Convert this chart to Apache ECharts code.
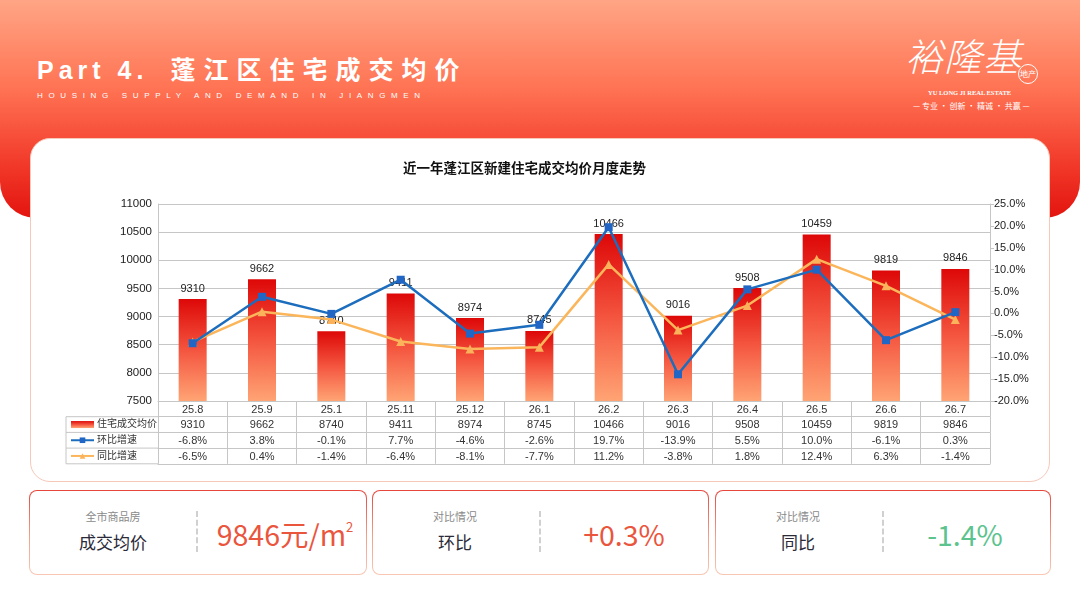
<!DOCTYPE html>
<html>
<head>
<meta charset="utf-8">
<script src="https://cdn.jsdelivr.net/npm/echarts@6/dist/echarts.min.js"></script>
<style>
  html, body { margin: 0; padding: 0; }
  body { width: 1080px; height: 608px; overflow: hidden; position: relative; background: #fff;
         font-family: 'Noto Sans CJK SC', 'Liberation Sans', sans-serif; }
  .abs { position: absolute; }
  #header { left: 0; top: 0; width: 1080px; height: 218px; border-radius: 0 0 36px 36px;
            background: linear-gradient(180deg, #ffa585 0%, #ff7454 40%, #f23a2a 75%, #e3140f 100%); }
  #title { left: 37px; top: 52px; color: #fff; font-weight: bold; font-size: 25px; white-space: nowrap; line-height: 32px; }
  #title .en { letter-spacing: 5px; font-family: 'Liberation Sans', sans-serif; }
  #title .cn { letter-spacing: 8px; margin-left: 22px; }
  #subtitle { left: 37px; top: 91px; color: #fff; font-size: 8px; letter-spacing: 5.65px; font-family: 'Liberation Sans', sans-serif; white-space: nowrap; }
  #logo { left: 905px; top: 30px; color: #fff; font-size: 38px; font-weight: 300; letter-spacing: 1px; font-style: italic; line-height: 50px; }
  #logo2 { left: 1018px; top: 64px; color: #fff; font-size: 8px; border: 1px solid #fff; border-radius: 50%; width: 18px; height: 18px; line-height: 18px; text-align: center; }
  #logoEn { left: 928px; top: 89px; color: #fff; font-size: 6.5px; font-family: 'Liberation Serif', serif; font-weight: bold; white-space: nowrap; }
  #logoCn { left: 913px; top: 100px; color: #fff; font-size: 8px; white-space: nowrap; }
  #card { left: 30px; top: 138px; width: 1020px; height: 344px; background: #fff; border-radius: 20px;
          border: 1px solid #f6c8ba; box-sizing: border-box; }
  .stat { top: 490px; height: 85px; border-radius: 8px; padding: 1px; box-sizing: border-box;
          background: linear-gradient(180deg, #e6463c 0%, #f4a08a 55%, #f8c7b3 100%); }
  .stat .inner { width: 100%; height: 100%; background: #fff; border-radius: 7px; }
  .c { transform: translate(-50%, -50%); white-space: nowrap; }
  .sub { font-size: 11px; color: #8a8a8a; }
  .main { font-size: 17px; color: #2a2a38; }
  .val { font-size: 28.5px; color: #ea553d; font-weight: 400; }
  .val sup { font-size: 13px; vertical-align: 14px; }
  .div { width: 0; border-left: 2px dashed #d0d0d0; top: 511px; height: 41px; }
  #chart { left: 0; top: 0; width: 1080px; height: 608px; }
</style>
</head>
<body>
<div id="header" class="abs"></div>
<div id="title" class="abs"><span class="en">Part 4.</span><span class="cn">蓬江区住宅成交均价</span></div>
<div id="subtitle" class="abs">HOUSING SUPPLY AND DEMAND IN JIANGMEN</div>
<div id="logo" class="abs">裕隆基</div>
<div id="logo2" class="abs">地产</div>
<div id="logoEn" class="abs">YU LONG JI REAL ESTATE</div>
<div id="logoCn" class="abs">— 专业 · 创新 · 精诚 · 共赢 —</div>
<div id="card" class="abs"></div>

<div class="stat abs" style="left:29px;width:338px"><div class="inner"></div></div>
<div class="stat abs" style="left:372px;width:337px"><div class="inner"></div></div>
<div class="stat abs" style="left:715px;width:336px"><div class="inner"></div></div>

<div class="abs c sub" style="left:113px;top:516px">全市商品房</div>
<div class="abs c main" style="left:113px;top:541px">成交均价</div>
<div class="abs div" style="left:196px"></div>
<div class="abs c val" style="left:285px;top:533px">9846元/m<sup>2</sup></div>

<div class="abs c sub" style="left:455px;top:516px">对比情况</div>
<div class="abs c main" style="left:455px;top:541px">环比</div>
<div class="abs div" style="left:539px"></div>
<div class="abs c val" style="left:624px;top:533px">+0.3%</div>

<div class="abs c sub" style="left:798px;top:516px">对比情况</div>
<div class="abs c main" style="left:798px;top:541px">同比</div>
<div class="abs div" style="left:882px"></div>
<div class="abs c val" style="left:965px;top:533px;color:#5cc38e">-1.4%</div>

<div id="chart" class="abs"></div>

<script>
// chart data
var months = ['25.8', '25.9', '25.1', '25.11', '25.12', '26.1', '26.2', '26.3', '26.4', '26.5', '26.6', '26.7'];
var avgPrice = [9310, 9662, 8740, 9411, 8974, 8745, 10466, 9016, 9508, 10459, 9819, 9846];
var momGrowth = [-6.8, 3.8, -0.1, 7.7, -4.6, -2.6, 19.7, -13.9, 5.5, 10.0, -6.1, 0.3];
var yoyGrowth = [-6.5, 0.4, -1.4, -6.4, -8.1, -7.7, 11.2, -3.8, 1.8, 12.4, 6.3, -1.4];
var seriesNames = ['住宅成交均价', '环比增速', '同比增速'];
var priceAxis = { min: 7500, max: 11000, step: 500 };
var rateAxis = { min: -20, max: 25, step: 5 };

// layout of the plot + data table
var PLOT_L = 158, PLOT_R = 990, PLOT_T = 204, PLOT_B = 401;
var ROW = 15.7, TABLE_L = 66;
var GRID_LINE = '#c6c6c6';

var pct = function (v) { return v.toFixed(1) + '%'; };

function tableAxis(data, row, showLabel) {
    return {
        type: 'category',
        data: data,
        position: 'bottom',
        offset: row * ROW,
        axisLine: { show: true, onZero: false, lineStyle: { color: GRID_LINE } },
        axisTick: { show: showLabel, interval: 0, length: ROW, lineStyle: { color: GRID_LINE } },
        axisLabel: { show: showLabel, interval: 0, margin: 3, fontSize: 11, color: '#333' },
        splitLine: { show: false }
    };
}

var chart = echarts.init(document.getElementById('chart'));

// left part of the table (legend column borders)
var tableLines = [];
for (var i = 1; i <= 4; i++) {
    var y = PLOT_B + i * ROW;
    tableLines.push({ type: 'line', shape: { x1: TABLE_L, y1: y, x2: PLOT_L, y2: y },
        style: { stroke: GRID_LINE, lineWidth: 1 } });
}
tableLines.push({ type: 'line', shape: { x1: TABLE_L, y1: PLOT_B + ROW, x2: TABLE_L, y2: PLOT_B + 4 * ROW },
    style: { stroke: GRID_LINE, lineWidth: 1 } });

var option = {
    animation: false,
    textStyle: { fontFamily: "'Liberation Sans', 'Noto Sans CJK SC', sans-serif" },
    title: {
        text: '近一年蓬江区新建住宅成交均价月度走势',
        left: 398, top: 158,
        textStyle: { fontSize: 13.5, fontWeight: 'bold', color: '#111' }
    },
    legend: {
        orient: 'vertical',
        left: TABLE_L + 4, top: PLOT_B + ROW,
        padding: 0,
        itemWidth: 23, itemHeight: 7, itemGap: 0,
        textStyle: { fontSize: 10, color: '#333', lineHeight: ROW, padding: [0, 0, 0, -2] },
        data: [{ name: seriesNames[0], icon: 'rect' }, seriesNames[1], seriesNames[2]]
    },
    grid: { left: PLOT_L, right: 1080 - PLOT_R, top: PLOT_T, bottom: 608 - PLOT_B, containLabel: false },
    xAxis: [
        tableAxis(months, 0, true),
        tableAxis(avgPrice.map(String), 1, true),
        tableAxis(momGrowth.map(pct), 2, true),
        tableAxis(yoyGrowth.map(pct), 3, true),
        tableAxis(months, 4, false)
    ],
    yAxis: [
        {
            type: 'value',
            min: priceAxis.min, max: priceAxis.max, interval: priceAxis.step,
            axisLine: { show: true, lineStyle: { color: GRID_LINE } },
            axisTick: { show: false },
            axisLabel: { fontSize: 11.5, color: '#222', margin: 6, formatter: function (v) { return String(v); } },
            splitLine: { lineStyle: { color: GRID_LINE } }
        },
        {
            type: 'value',
            position: 'right',
            min: rateAxis.min, max: rateAxis.max, interval: rateAxis.step,
            axisLine: { show: true, lineStyle: { color: GRID_LINE } },
            axisTick: { show: true, length: 4, lineStyle: { color: GRID_LINE } },
            axisLabel: { fontSize: 11, color: '#222', margin: 4, formatter: pct },
            splitLine: { show: false }
        }
    ],
    series: [
        {
            name: seriesNames[0],
            type: 'bar',
            data: avgPrice,
            barWidth: 28,
            itemStyle: {
                color: new echarts.graphic.LinearGradient(0, 0, 0, 1, [
                    { offset: 0, color: '#dd0808' },
                    { offset: 0.5, color: '#f4553f' },
                    { offset: 1, color: '#ffa474' }
                ])
            },
            label: { show: true, position: 'top', distance: 5, fontSize: 11, color: '#222' }
        },
        {
            name: seriesNames[1],
            type: 'line',
            yAxisIndex: 1,
            data: momGrowth,
            symbol: 'rect', symbolSize: 8,
            itemStyle: { color: '#2166c4' },
            lineStyle: { color: '#1c6dbd', width: 2.5 },
            z: 3
        },
        {
            name: seriesNames[2],
            type: 'line',
            yAxisIndex: 1,
            data: yoyGrowth,
            symbol: 'triangle', symbolSize: 9,
            itemStyle: { color: '#fbb25a' },
            lineStyle: { color: '#fbb65c', width: 2.5 },
            z: 2
        }
    ],
    graphic: tableLines
};

chart.setOption(option);
</script>
</body>
</html>
